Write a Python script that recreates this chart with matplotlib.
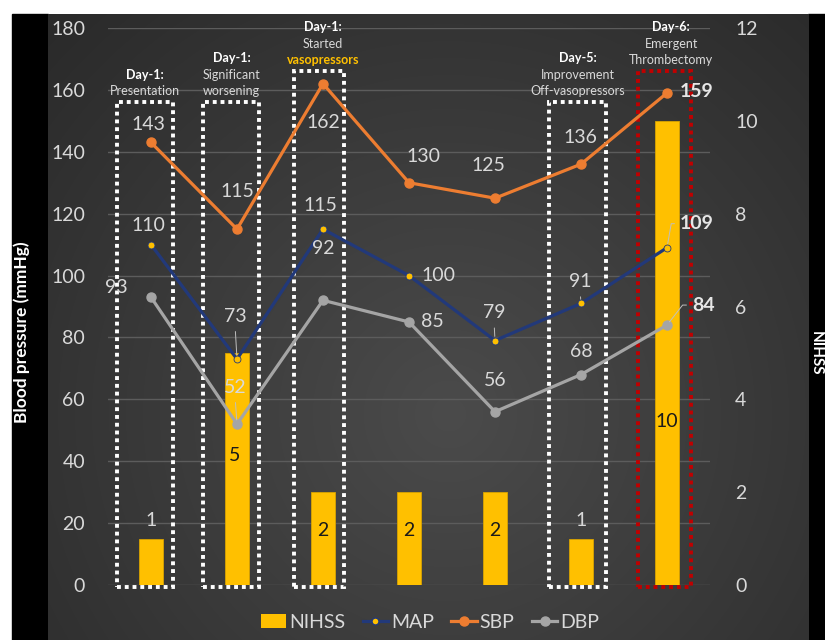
import numpy as np
import matplotlib
matplotlib.use("Agg")
import matplotlib.pyplot as plt
from matplotlib.patches import Rectangle, Patch
from matplotlib.lines import Line2D

plt.rcParams['font.family'] = ['Lato', 'DejaVu Sans']

# data
days = ["Day-1:", "Day-1:", "Day-1:", "", "", "Day-5:", "Day-6:"]
notes = [["Presentation"], ["Significant", "worsening"], ["Started", "vasopressors"],
         [], [], ["Improvement", "Off-vasopressors"], ["Emergent", "Thrombectomy"]]
nihss = [1, 5, 2, 2, 2, 1, 10]
map_bp = [110, 73, 115, 100, 79, 91, 109]
sbp = [143, 115, 162, 130, 125, 136, 159]
dbp = [93, 52, 92, 85, 56, 68, 84]
bp_ticks = list(range(0, 181, 20))
nihss_ticks = list(range(0, 13, 2))

GOLD = '#FFC000'
NAVY = '#22397A'
ORANGE = '#ED7D31'
GRAY = '#A5A5A5'
TXT = '#D9D9D9'

W, H = 825, 640
fig = plt.figure(figsize=(W / 100, H / 100), dpi=100)
fig.patch.set_facecolor('white')

# black side bands
fig.add_artist(Rectangle((12 / W, 0), 36 / W, 626 / H, transform=fig.transFigure,
                         color='black', zorder=0))
fig.add_artist(Rectangle((808 / W, 0), 17 / W, 626 / H, transform=fig.transFigure,
                         color='black', zorder=0))

# radial gradient background
bg = fig.add_axes([48 / W, 0, 760 / W, 626 / H], zorder=0)
bg.axis('off')
yy, xx = np.mgrid[0:626, 0:760]
r = np.sqrt((xx - 400) ** 2 + (yy - 400) ** 2) / 560
r = np.clip(r, 0, 1)
c0 = np.array([0x4b, 0x4b, 0x4b]) / 255
c1 = np.array([0x2a, 0x2a, 0x2a]) / 255
img = c0[None, None, :] + (c1 - c0)[None, None, :] * r[:, :, None]
bg.imshow(img, aspect='auto', extent=(0, 1, 0, 1), origin='upper')
bg.set_xlim(0, 1)
bg.set_ylim(0, 1)

rect = [108 / W, 55 / H, 602 / W, 557 / H]
x = np.arange(len(nihss))

# base axes: grid + left ticks
ax = fig.add_axes(rect, zorder=1)
ax.patch.set_visible(False)
ax.set_xlim(-0.5, 6.5)
ax.set_ylim(0, 180)
ax.set_yticks(bp_ticks)
ax.set_xticks([])
ax.grid(axis='y', color='#5c5c5c', lw=1)
ax.tick_params(axis='y', length=0, pad=16.5, labelsize=14, labelcolor=TXT)
for s in ax.spines.values():
    s.set_visible(False)

# bar axes: NIHSS + right ticks
ax2 = fig.add_axes(rect, zorder=2)
ax2.patch.set_visible(False)
ax2.set_xlim(-0.5, 6.5)
ax2.set_ylim(0, 12)
ax2.yaxis.tick_right()
ax2.set_yticks(nihss_ticks)
ax2.set_xticks([])
ax2.tick_params(axis='y', length=0, pad=18, labelsize=14, labelcolor=TXT)
for s in ax2.spines.values():
    s.set_visible(False)
ax2.bar(x, nihss, width=0.27, color=GOLD, edgecolor='#D9A300', lw=0.6, zorder=2)

# line axes
ax3 = fig.add_axes(rect, zorder=3)
ax3.patch.set_visible(False)
ax3.set_xlim(-0.5, 6.5)
ax3.set_ylim(0, 180)
ax3.axis('off')

# dotted event boxes: (category, centre shift, width, top, colour, text shift)
boxes = [(0, -0.07, 0.65, 156, 'white', -0.07),
         (1, -0.07, 0.65, 156, 'white', -0.06),
         (2, -0.05, 0.58, 166, 'white', 0.0),
         (5, -0.04, 0.66, 156, 'white', -0.04),
         (6, -0.03, 0.62, 166, '#C00000', 0.05)]
px_per_unit = 557 / 180
for ci, sh, w, top, col, tsh in boxes:
    ax3.add_patch(Rectangle((ci + sh - w / 2, -0.5), w, top + 0.5, fill=False,
                            edgecolor=col, lw=2.8, ls=(0, (1, 1)),
                            clip_on=False, zorder=1))
    lines = [days[ci]] + notes[ci]
    n = len(lines)
    for k, t in enumerate(lines):
        ypx = 11 + 16.5 * (n - 1 - k)
        yv = top + ypx / px_per_unit
        if k == 0:
            kw = dict(color='white', fontweight='bold')
        elif t == 'vasopressors':
            kw = dict(color=GOLD, fontweight='bold')
        else:
            kw = dict(color=TXT)
        ax3.text(ci + tsh, yv, t, ha='center', va='center', fontsize=9,
                 clip_on=False, **kw)

ax3.plot(x, dbp, color=GRAY, lw=2.3, marker='o', ms=6.5, zorder=3)
ax3.plot(x, map_bp, color=NAVY, lw=2.3, marker='o', ms=5, mfc=GOLD,
         mec=NAVY, mew=0.6, zorder=4)
ax3.plot(x, sbp, color=ORANGE, lw=2.3, marker='o', ms=6.5, zorder=5)

# bar labels (offset px from bar top, colour), drawn above the lines
bar_lab = [(18, TXT), (-103, '#1a1a1a'), (-38, '#1a1a1a'), (-38, '#1a1a1a'),
           (-38, '#1a1a1a'), (18, TXT), (-301, '#1a1a1a')]
for i, v in enumerate(nihss):
    dy, col = bar_lab[i]
    ax2.annotate(str(v), (x[i], v), xytext=(-2 if i == 1 else 0, dy),
                 textcoords='offset pixels', ha='center', va='center',
                 fontsize=14, color=col, annotation_clip=False).set_zorder(10)


def put_labels(vals, offs):
    for i, v in enumerate(vals):
        dx, dy, ha, bold, lead = offs[i]
        kw = dict(fontsize=14, color=TXT, ha=ha, va='center',
                  textcoords='offset pixels', zorder=6)
        if bold:
            kw['fontweight'] = 'bold'
            kw['color'] = '#E6E6E6'
        if lead == 'straight':
            kw['arrowprops'] = dict(arrowstyle='-', color='#BFBFBF', lw=0.7,
                                    relpos=(0.5, 0), shrinkA=3, shrinkB=3)
        elif lead:
            kw['arrowprops'] = dict(arrowstyle='-', color='#BFBFBF', lw=0.7,
                                    relpos=(0, 0.5), shrinkA=2, shrinkB=3,
                                    connectionstyle='angle,angleA=0,angleB=%d,rad=0' % lead)
        ax3.annotate(str(v), (x[i], v), xytext=(dx, -dy), **kw)


put_labels(sbp, [(-3, -18, 'center', False, None), (0, -38, 'center', False, None),
                 (0, 39, 'center', False, None), (14, -26, 'center', False, None),
                 (-7, -33, 'center', False, None), (-1, -27, 'center', False, None),
                 (13, -1, 'left', True, None)])
put_labels(map_bp, [(-3, -19, 'center', False, None), (-2, -43, 'center', False, 'straight'),
                    (-3, -24, 'center', False, None), (12, 0, 'left', False, None),
                    (-1, -28, 'center', False, 'straight'), (-1, -22, 'center', False, 'straight'),
                    (13, -24, 'left', True, 80)])
put_labels(dbp, [(-35, -10, 'center', False, None), (-2, -37, 'center', False, 'straight'),
                 (0, -52, 'center', False, None), (12, 0, 'left', False, None),
                 (0, -31, 'center', False, None), (0, -23, 'center', False, None),
                 (25, -20, 'left', True, 52)])

# axis titles
fig.text(22 / W, 1 - 332 / H, 'Blood pressure (mmHg)', rotation=90, ha='center',
         va='center', fontsize=12.5, fontweight='bold', color='white')
fig.text(816 / W, 1 - 353 / H, 'NIHSS', rotation=-90, ha='center', va='center',
         fontsize=11, fontweight='bold', color='white')

# legend
handles = [Patch(facecolor=GOLD),
           Line2D([], [], color=NAVY, lw=2.3, marker='o', ms=5, mfc=GOLD, mec=NAVY),
           Line2D([], [], color=ORANGE, lw=2.3, marker='o', ms=6.5),
           Line2D([], [], color=GRAY, lw=2.3, marker='o', ms=6.5)]
fig.legend(handles, ['NIHSS', 'MAP', 'SBP', 'DBP'], loc='center',
           bbox_to_anchor=(430 / W, 1 - 622 / H), ncol=4, frameon=False,
           fontsize=14, labelcolor=TXT, handlelength=1.3, handletextpad=0.15,
           columnspacing=0.9)

fig.savefig('out.png', dpi=100)
